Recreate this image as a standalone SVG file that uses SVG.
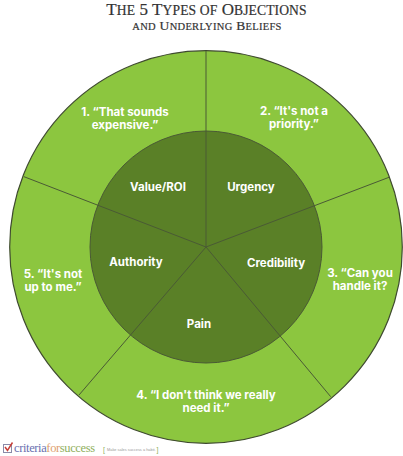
<svg xmlns="http://www.w3.org/2000/svg" width="403" height="456" viewBox="0 0 403 456">
<style>
.t{font-family:"Liberation Serif","DejaVu Serif",serif;fill:#333;text-anchor:middle;stroke:#333;stroke-width:.2}
.w{font-family:"Inter","Noto Sans",sans-serif;font-weight:700;fill:#fff;text-anchor:middle;font-size:11.500px}
.l{stroke:#4a5a35;stroke-width:1;fill:none}
.o{fill:#8cc63f;stroke:#3f4a30;stroke-width:1.200}
.i{fill:#5a8027;stroke:#4a5a35;stroke-width:1}
.logo{font-family:"Liberation Serif",serif;font-size:12.500px}
</style>
<rect width="403" height="456" fill="#fff"/>
<text class="t" x="206.500" y="15.200" font-size="17" letter-spacing=".1">T<tspan font-size="13.600">HE</tspan> 5 T<tspan font-size="13.600">YPES OF</tspan> O<tspan font-size="13.600">BJECTIONS</tspan></text>
<text class="t" x="207" y="30" font-size="13.500" letter-spacing=".3"><tspan font-size="10.500">AND</tspan> U<tspan font-size="10.500">NDERLYING</tspan> B<tspan font-size="10.500">ELIEFS</tspan></text>
<g id="outer"><circle class="o" cx="206" cy="247" r="196.300"/></g>
<g id="inner"><circle class="i" cx="206" cy="247" r="116"/></g>
<g id="connectors">
<path class="l" d="M206 247V51M206 247L389 177.300M206 247L330.700 396.700M206 247L79 395M206 247L24 176.700"/>
</g>
<g id="node-1"><text class="w" x="125" y="116">1. “That sounds</text><text class="w" x="125" y="129">expensive.”</text></g>
<g id="node-2"><text class="w" x="294" y="115">2. “It's not a</text><text class="w" x="294" y="128">priority.”</text></g>
<g id="node-3"><text class="w" x="360" y="277" font-size="11">3. “Can you</text><text class="w" x="360" y="289.500">handle it?</text></g>
<g id="node-4"><text class="w" x="206" y="399">4. “I don't think we really</text><text class="w" x="206" y="411.700">need it.”</text></g>
<g id="node-5"><text class="w" x="53" y="278">5. “It's not</text><text class="w" x="53" y="291">up to me.”</text></g>
<g id="value"><text class="w" x="158" y="191">Value/ROI</text></g>
<g id="urgency"><text class="w" x="251" y="191">Urgency</text></g>
<g id="credibility"><text class="w" x="276" y="267">Credibility</text></g>
<g id="authority"><text class="w" x="136" y="266">Authority</text></g>
<g id="pain"><text class="w" x="199" y="328">Pain</text></g>
<g id="logo">
<rect x="3.500" y="444.500" width="8" height="8" fill="#fff" stroke="#8a8aa8"/>
<path d="M5 447l2.500 3.500 5-8" fill="none" stroke="#c8403a" stroke-width="1.500"/>
<text class="logo" x="14" y="452" textLength="81" lengthAdjust="spacing"><tspan fill="#6a70b0">criteria</tspan><tspan fill="#e0a070">for</tspan><tspan fill="#8fb060">success</tspan></text>
<text x="103" y="452" font-family="Liberation Sans,sans-serif" font-size="7" fill="#8fb060">[</text>
<text x="107" y="451" font-family="Liberation Sans,sans-serif" font-size="3.900" fill="#999">Make sales success a habit.</text>
<text x="156.500" y="452" font-family="Liberation Sans,sans-serif" font-size="7" fill="#8fb060">]</text>
</g>
</svg>
